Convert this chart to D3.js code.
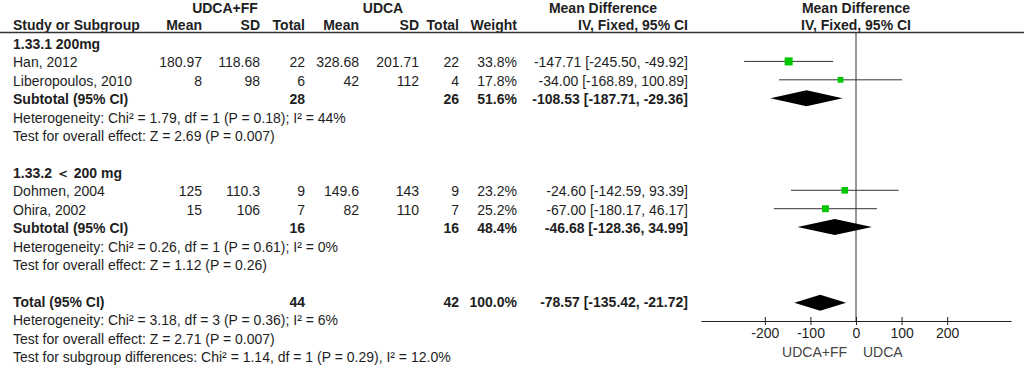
<!DOCTYPE html>
<html>
<head>
<meta charset="utf-8">
<script src="https://cdn.jsdelivr.net/npm/d3@7"></script>
<style>
  body { margin: 0; background: #fff; }
  svg text { font-family: "Liberation Sans", Arial, sans-serif; font-size: 14px; fill: #1e1e1e; }
</style>
</head>
<body>
<svg id="plot"></svg>
<script>
// study level data
const studies   = ["Han, 2012", "Liberopoulos, 2010", "Dohmen, 2004", "Ohira, 2002"];
const studyGrp  = [0, 0, 1, 1];
const ffMean    = [180.97, 8, 125, 15];
const ffSD      = [118.68, 98, 110.3, 106];
const ffN       = [22, 6, 9, 7];
const udMean    = [328.68, 42, 149.6, 82];
const udSD      = [201.71, 112, 143, 110];
const udN       = [22, 4, 9, 7];
const weights   = [33.8, 17.8, 23.2, 25.2];
const md        = [-147.71, -34.00, -24.60, -67.00];
const mdLo      = [-245.50, -168.89, -142.59, -180.17];
const mdHi      = [-49.92, 100.89, 93.39, 46.17];

// subgroup data
const subgroups = ["1.33.1 200mg", "1.33.2 \uFF1C 200 mg"];
const subN1     = [28, 16];
const subN2     = [26, 16];
const subW      = [51.6, 48.4];
const subMd     = [-108.53, -46.68];
const subLo     = [-187.71, -128.36];
const subHi     = [-29.36, 34.99];
const subHet    = ["Heterogeneity: Chi\u00B2 = 1.79, df = 1 (P = 0.18); I\u00B2 = 44%",
                   "Heterogeneity: Chi\u00B2 = 0.26, df = 1 (P = 0.61); I\u00B2 = 0%"];
const subZ      = ["Test for overall effect: Z = 2.69 (P = 0.007)",
                   "Test for overall effect: Z = 1.12 (P = 0.26)"];

// overall
const totalN    = [44, 42];
const totalW    = 100.0;
const totalMd   = [-78.57, -135.42, -21.72];
const totalNotes = ["Heterogeneity: Chi\u00B2 = 3.18, df = 3 (P = 0.36); I\u00B2 = 6%",
                    "Test for overall effect: Z = 2.71 (P = 0.007)",
                    "Test for subgroup differences: Chi\u00B2 = 1.14, df = 1 (P = 0.29), I\u00B2 = 12.0%"];

const xTicks    = [-200, -100, 0, 100, 200];
const favours   = ["UDCA+FF", "UDCA"];

const W = 1024, H = 369;
const svg = d3.select("#plot").attr("width", W).attr("height", H);

// plain hyphen for minus, like the original
const loc = d3.formatLocale({ decimal: ".", thousands: ",", grouping: [3], currency: ["", ""], minus: "-" });
const f2 = loc.format(".2f"), f1 = loc.format(".1f");
const ciText = (m, l, h) => `${f2(m)} [${f2(l)}, ${f2(h)}]`;

// column right edges
const col = { name: 13, m1: 202, sd1: 260, n1: 305, m2: 359, sd2: 419, n2: 459, w: 517, ci: 688 };

// build row list
let rows = [];
subgroups.forEach((g, gi) => {
  rows.push({ type: "group", label: g });
  studies.forEach((s, i) => { if (studyGrp[i] === gi) rows.push({ type: "study", i }); });
  rows.push({ type: "sub", gi });
  rows.push({ type: "note", label: subHet[gi] });
  rows.push({ type: "note", label: subZ[gi] });
  rows.push({ type: "blank" });
});
rows.push({ type: "total" });
totalNotes.forEach(t => rows.push({ type: "note", label: t }));

const y = d3.scaleLinear().domain([0, rows.length - 1]).range([44, 357]);
const x = d3.scaleLinear().domain([-340, 340]).range([701, 1011]);
const boxSize = d3.scaleSqrt().domain([0, 33.8]).range([0, 8]);

function txt(xp, yp, s, anchor, bold) {
  return svg.append("text").attr("x", xp).attr("y", yp).attr("dy", "0.36em")
    .attr("text-anchor", anchor || "start")
    .attr("font-weight", bold ? "bold" : null)
    .text(s);
}

// headers
txt(225, 8, "UDCA+FF", "middle", true);
txt(383, 8, "UDCA", "middle", true);
txt(603, 8, "Mean Difference", "middle", true);
txt(x(0), 8, "Mean Difference", "middle", true);
txt(col.name, 25, "Study or Subgroup", "start", true);
txt(col.m1, 25, "Mean", "end", true);
txt(col.sd1, 25, "SD", "end", true);
txt(col.n1, 25, "Total", "end", true);
txt(col.m2, 25, "Mean", "end", true);
txt(col.sd2, 25, "SD", "end", true);
txt(col.n2, 25, "Total", "end", true);
txt(col.w, 25, "Weight", "end", true);
txt(col.ci, 25, "IV, Fixed, 95% CI", "end", true);
txt(x(0), 25, "IV, Fixed, 95% CI", "middle", true);

svg.append("line").attr("x1", 0).attr("x2", W).attr("y1", 32.5).attr("y2", 32.5)
  .attr("stroke", "#333").attr("stroke-width", 1.5);

// zero line
svg.append("line").attr("x1", x(0)).attr("x2", x(0)).attr("y1", 33).attr("y2", 321)
  .attr("stroke", "#333").attr("stroke-width", 1);

function diamond(yc, m, l, h) {
  const hh = 8;
  svg.append("path")
    .attr("d", `M${x(l)},${yc} L${x(m)},${yc - hh} L${x(h)},${yc} L${x(m)},${yc + hh} Z`)
    .attr("fill", "#000");
}

rows.forEach((r, k) => {
  const yc = y(k);
  if (r.type === "group") {
    txt(col.name, yc, r.label, "start", true);
  } else if (r.type === "study") {
    const i = r.i;
    txt(col.name, yc, studies[i]);
    txt(col.m1, yc, String(ffMean[i]), "end");
    txt(col.sd1, yc, String(ffSD[i]), "end");
    txt(col.n1, yc, String(ffN[i]), "end");
    txt(col.m2, yc, String(udMean[i]), "end");
    txt(col.sd2, yc, String(udSD[i]), "end");
    txt(col.n2, yc, String(udN[i]), "end");
    txt(col.w, yc, f1(weights[i]) + "%", "end");
    txt(col.ci, yc, ciText(md[i], mdLo[i], mdHi[i]), "end");
    svg.append("line").attr("x1", x(mdLo[i])).attr("x2", x(mdHi[i]))
      .attr("y1", yc - 1).attr("y2", yc - 1).attr("stroke", "#333").attr("stroke-width", 1);
    const s = boxSize(weights[i]);
    svg.append("rect").attr("x", x(md[i]) - s / 2).attr("y", yc - 1 - s / 2)
      .attr("width", s).attr("height", s).attr("fill", "#00c800");
  } else if (r.type === "sub") {
    const g = r.gi;
    txt(col.name, yc, "Subtotal (95% CI)", "start", true);
    txt(col.n1, yc, String(subN1[g]), "end", true);
    txt(col.n2, yc, String(subN2[g]), "end", true);
    txt(col.w, yc, f1(subW[g]) + "%", "end", true);
    txt(col.ci, yc, ciText(subMd[g], subLo[g], subHi[g]), "end", true);
    diamond(yc - 1, subMd[g], subLo[g], subHi[g]);
  } else if (r.type === "note") {
    txt(col.name, yc, r.label);
  } else if (r.type === "total") {
    txt(col.name, yc, "Total (95% CI)", "start", true);
    txt(col.n1, yc, String(totalN[0]), "end", true);
    txt(col.n2, yc, String(totalN[1]), "end", true);
    txt(col.w, yc, f1(totalW) + "%", "end", true);
    txt(col.ci, yc, ciText(totalMd[0], totalMd[1], totalMd[2]), "end", true);
    diamond(yc + 1, totalMd[0], totalMd[1], totalMd[2]);
  }
});

// axis
const axisY = 321;
const axis = d3.axisBottom(x).tickValues(xTicks).tickSize(4).tickSizeOuter(0).tickPadding(3)
  .tickFormat(loc.format("d"));
const ag = svg.append("g").attr("transform", `translate(0,${axisY})`).call(axis);
ag.select(".domain").attr("stroke", "#222").attr("stroke-width", 1.2);
ag.selectAll(".tick line").attr("y1", -4).attr("y2", 4).attr("stroke", "#222");
ag.selectAll(".tick text").attr("font-family", null).attr("font-size", null).style("fill", "#1e1e1e");

svg.append("text").attr("x", x(0) - 9).attr("y", 352).attr("dy", "0.36em")
  .attr("text-anchor", "end").style("fill", "#444").text(favours[0]);
svg.append("text").attr("x", x(0) + 7).attr("y", 352).attr("dy", "0.36em")
  .attr("text-anchor", "start").style("fill", "#444").text(favours[1]);
</script>
</body>
</html>
